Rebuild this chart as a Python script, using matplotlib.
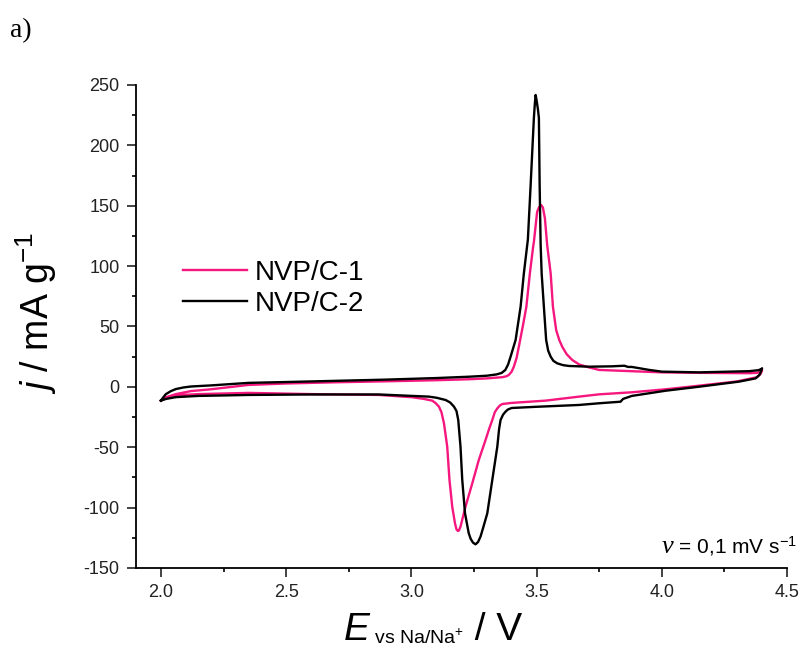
import matplotlib
matplotlib.use('Agg')
import matplotlib.pyplot as plt
from matplotlib.ticker import MultipleLocator

plt.rcParams['font.family'] = ['Liberation Sans', 'DejaVu Sans']
plt.rcParams['mathtext.fontset'] = 'custom'
plt.rcParams['mathtext.rm'] = 'Liberation Sans'
plt.rcParams['mathtext.it'] = 'Liberation Sans:italic'
plt.rcParams['axes.unicode_minus'] = False

# Datos (E / V, j / mA g-1)
# NVP/C-1, barrido anodico (2.0 -> 4.4 V)
e1_an = [2.0, 2.01, 2.03, 2.06, 2.12, 2.2, 2.35, 2.5, 2.7, 2.9, 3.1, 3.23, 3.3,
         3.363, 3.38, 3.389, 3.4, 3.409, 3.42, 3.429, 3.447, 3.459, 3.473, 3.486,
         3.489, 3.502, 3.51, 3.518, 3.525, 3.533, 3.542, 3.556, 3.565, 3.578,
         3.59, 3.602, 3.62, 3.642, 3.67, 3.709, 3.75, 3.9, 4.0, 4.15, 4.35,
         4.38, 4.395, 4.4]
j1_an = [-11.4, -9.5, -8, -6, -3.5, -2, 1.6, 2.8, 3.8, 4.6, 5.5, 6.3, 7,
         8, 8.8, 9.9, 12.5, 16.7, 24, 33.3, 52.6, 66.4, 94, 116,
         120, 145, 149, 150.6, 148.5, 139.6, 117.5, 94, 66.4, 47,
         39, 33.3, 27, 22.3, 18.5, 16.1, 14, 12.8, 12, 11.6, 11.3,
         11.6, 12.8, 14]
# NVP/C-1, barrido catodico (4.4 -> 2.0 V)
e1_cat = [4.4, 4.395, 4.38, 4.3, 4.15, 4.015, 3.88, 3.749, 3.669, 3.536, 3.4,
          3.363, 3.353, 3.343, 3.333, 3.323, 3.31, 3.296, 3.269, 3.243, 3.216,
          3.196, 3.19, 3.186, 3.18, 3.174, 3.163, 3.152, 3.143, 3.13, 3.12,
          3.11, 3.097, 3.083, 3.05, 3.003, 2.87, 2.6, 2.35, 2.15, 2.06, 2.02,
          2.0]
j1_cat = [14, 11, 8, 4.5, 1, -2, -4.5, -6.2, -8.1, -11.4, -13.3,
          -14.2, -15.5, -17.8, -21, -27.4, -35, -44, -60.6, -79.9, -99.2,
          -115.8, -118.8, -119.4, -118, -113, -99.2, -77, -49.5, -30.2, -21,
          -16.4, -13.5, -11.4, -10, -8.6, -6.7, -6, -5, -6, -7, -9,
          -11.4]

# NVP/C-2, barrido anodico
e2_an = [2.0, 2.01, 2.02, 2.04, 2.06, 2.09, 2.12, 2.2, 2.35, 2.5, 2.7, 2.9, 3.1,
         3.23, 3.3, 3.34, 3.36, 3.375, 3.386, 3.396, 3.416, 3.436, 3.449, 3.465,
         3.476, 3.489, 3.493, 3.496, 3.5, 3.505, 3.509, 3.512, 3.516, 3.52,
         3.529, 3.538, 3.546, 3.556, 3.567, 3.582, 3.605, 3.629, 3.709, 3.8,
         3.85, 3.865, 3.88, 3.95, 4.0, 4.15, 4.35, 4.385, 4.398, 4.4]
j2_an = [-11.4, -8.5, -6, -3.5, -1.8, -0.5, 0.3, 1.2, 3.3, 4, 5, 6, 7.3,
         8.4, 9.2, 10.3, 11.5, 14, 18.5, 25, 38.8, 66.4, 94, 122,
         167, 222.7, 235, 241.7, 237, 230, 222.7, 167, 117.5, 94,
         66, 38.8, 30, 25, 21.5, 19.5, 18, 17.3, 16.7, 17,
         17.5, 16.5, 16.5, 14, 12.6, 12, 13, 13.8, 14.8, 15.4]
# NVP/C-2, barrido catodico
e2_cat = [4.4, 4.395, 4.39, 4.374, 4.307, 4.148, 4.015, 3.88, 3.845, 3.835, 3.749,
          3.669, 3.5, 3.4, 3.385, 3.376, 3.366, 3.356, 3.35, 3.343, 3.323, 3.303,
          3.286, 3.276, 3.266, 3.256, 3.246, 3.237, 3.229, 3.214, 3.203, 3.196,
          3.187, 3.18, 3.17, 3.155, 3.137, 3.1, 3.07, 2.87, 2.6, 2.35, 2.15,
          2.06, 2.02, 2.0]
j2_cat = [15.4, 12.5, 10, 7, 4.3, 0.1, -3.2, -7.5, -10, -12.3, -13.6,
          -15, -16.5, -17.5, -18.8, -20.5, -23, -27.4, -35, -49.5, -77, -104.7,
          -117, -124, -128.5, -130.4, -129, -126, -121.3, -104.7, -77, -49.5,
          -27.4, -20, -16.4, -13, -10.9, -9, -8.1, -6.3, -6.3, -6.7, -7.5,
          -8.5, -10, -11.4]

pink = '#f5167e'

fig = plt.figure(figsize=(8.04, 6.51), dpi=100)
ax = fig.add_axes([0.169, 0.1275, 0.81, 0.742])

ax.plot(e1_an + e1_cat, j1_an + j1_cat, color=pink, lw=1.7, label='NVP/C-1',
        solid_joinstyle='round')
ax.plot(e2_an + e2_cat, j2_an + j2_cat, color='black', lw=1.7, label='NVP/C-2',
        solid_joinstyle='round')

ax.set_xlim(1.9, 4.5)
ax.set_ylim(-150, 250)
ax.xaxis.set_minor_locator(MultipleLocator(0.25))
ax.yaxis.set_major_locator(MultipleLocator(50))
ax.yaxis.set_minor_locator(MultipleLocator(25))
ax.set_xticks([2.0, 2.5, 3.0, 3.5, 4.0, 4.5])
ax.set_xticklabels(['2.0', '2.5', '3.0', '3.5', '4.0', '4.5'])

for s in ['top', 'right']:
    ax.spines[s].set_visible(False)
for s in ['left', 'bottom']:
    ax.spines[s].set_linewidth(1.3)
ax.tick_params(which='major', direction='out', length=6.7, width=1.2,
               labelsize=13, pad=5, colors='#222222')
ax.tick_params(which='minor', direction='out', length=3.2, width=1.2)

ax.legend(loc='center left', bbox_to_anchor=(0.072, 0.579), frameon=False,
          fontsize=20, handlelength=2.3, handletextpad=0.3, labelspacing=0.2,
          borderpad=0, borderaxespad=0)

# Etiquetas de ejes
fig.text(0.045, 0.52, r'$\mathit{j}$ / mA g$^{-1}$', rotation=90,
         ha='center', va='center', fontsize=27)
t1 = fig.text(0.427, 0.017, 'E', fontsize=28, style='italic', va='baseline')
t2 = ax.annotate(' vs Na/Na$^{+}$', xy=(1, 0), xycoords=t1, va='bottom',
                 fontsize=14)
ax.annotate(' / V', xy=(1, 0), xycoords=t2, va='bottom', fontsize=28)

# Velocidad de barrido
t3 = ax.text(1.016, 0.03, ' = 0,1 mV s$^{-1}$', transform=ax.transAxes,
             ha='right', va='baseline', fontsize=15)
ax.annotate('ν', xy=(0, 0), xycoords=t3, ha='right', va='bottom',
            fontsize=19, family='Liberation Serif', style='italic')

fig.text(0.012, 0.943, 'a)', family='Liberation Serif', fontsize=20,
         va='baseline')

plt.savefig('out.png', dpi=100)
